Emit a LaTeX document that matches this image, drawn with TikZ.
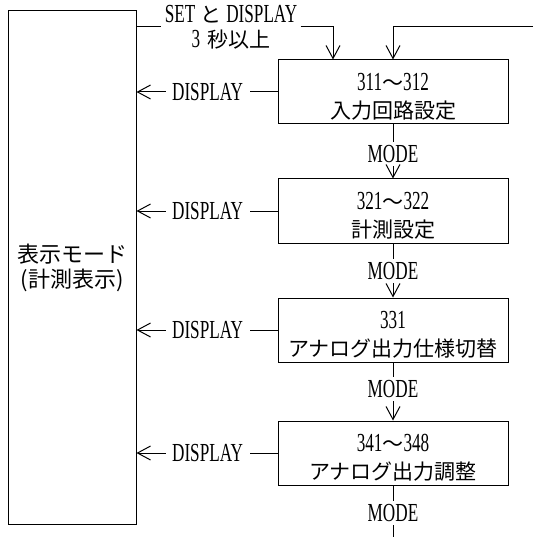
\documentclass[tikz,border=0pt]{standalone}
\usepackage{fontspec}
\setmainfont[FakeStretch=0.66]{Liberation Serif}
\newfontfamily\jpf{Noto Sans CJK JP}
\newcommand{\J}[1]{{\jpf\fontsize{21}{21}\selectfont #1}}
\usetikzlibrary{arrows.meta}
\begin{document}
\begin{tikzpicture}[x=1pt,y=-1pt,line width=1pt,
  every node/.style={font=\fontsize{26}{28}\selectfont},
  stepbox/.style={draw,minimum width=230pt,minimum height=64pt,align=center,inner sep=0pt},
  bigbox/.style={draw,minimum width=128pt,minimum height=513pt,align=center},
  lbl/.style={inner xsep=6pt,inner ysep=3pt,text height=17pt,text depth=0pt},
  arr/.style={-{Straight Barb[length=13pt,width=14pt]}}]
\useasboundingbox (0,0) rectangle (533,537);
% left box
\node[bigbox,font=\jpf\fontsize{22}{25}\selectfont] (mode) at (72,267.5) {表示モード\\(計測表示)};
% step boxes
\node[stepbox] (b1) at (393,92) {\rule{0pt}{27pt}311\J{～}312\\\J{入力回路設定}};
\node[stepbox] (b2) at (393,211) {\rule{0pt}{27pt}321\J{～}322\\\J{計測設定}};
\node[stepbox] (b3) at (393,330) {\rule{0pt}{27pt}331\\\J{アナログ出力仕様切替}};
\node[stepbox] (b4) at (393,453) {\rule{0pt}{27pt}341\J{～}348\\\J{アナログ出力調整}};
% entry from display mode
\node[align=center,inner sep=3pt,font=\fontsize{26}{25}\selectfont] (setlab) at (231,27) {SET\hspace{5pt}\J{と}\hspace{5pt}DISPLAY\\3\hspace{7pt}\J{秒以上}};
\draw (mode.north east |- setlab.west) -- (setlab.west);
\draw[arr] (setlab.east) -| ([xshift=-60pt]b1.north);
% return line from the right
\coordinate (rin) at (533,27);
\draw[arr] (rin) -| (b1.north);
% DISPLAY arrows
\foreach \b/\d in {b1/d1,b2/d2,b3/d3,b4/d4}{
  \node[lbl,anchor=east] (\d) at ([xshift=-28pt]\b.west) {DISPLAY};
  \draw (\b.west) -- (\d.east);
  \draw[arr] (\d.west) -- (mode.east |- \d.west);
}
% MODE arrows
\node[lbl] (m1) at (393,154.5) {MODE};
\node[lbl] (m2) at (393,271) {MODE};
\node[lbl] (m3) at (393,389) {MODE};
\node[lbl] (m4) at (393,513) {MODE};
\draw (b1.south) -- (m1.north);
\draw[arr] (m1.south) -- (b2.north);
\draw (b2.south) -- (m2.north);
\draw[arr] (m2.south) -- (b3.north);
\draw (b3.south) -- (m3.north);
\draw[arr] (m3.south) -- (b4.north);
\coordinate (bend) at (393,537);
\draw (b4.south) -- (m4.north);
\draw (m4.south) -- (bend);
\end{tikzpicture}
\end{document}
